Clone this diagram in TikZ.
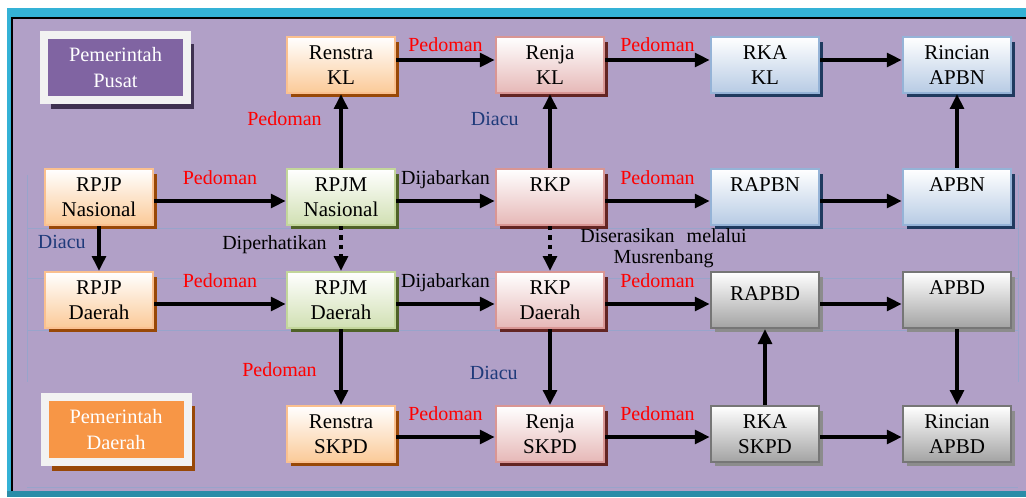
\documentclass[tikz,border=0pt]{standalone}
\usepackage{fontspec}
\setmainfont{Liberation Serif}
\usetikzlibrary{arrows.meta,shadows}

\definecolor{bgpurple}{HTML}{B1A0C7}
\definecolor{tealtop}{HTML}{34B2D6}
\definecolor{tealbot}{HTML}{2A8DA8}
\definecolor{gridblue}{HTML}{8EA6CE}
\definecolor{framegray}{HTML}{F2F2F2}
\definecolor{pusatfill}{HTML}{8064A2}
\definecolor{pusatshadow}{HTML}{3F3151}
\definecolor{daerahfill}{HTML}{F79646}
\definecolor{orgline}{HTML}{FAC08F}
\definecolor{orgfill}{HTML}{FBCA98}
\definecolor{orgshadow}{HTML}{984807}
\definecolor{grnline}{HTML}{C3D69B}
\definecolor{grnfill}{HTML}{D1E0B3}
\definecolor{grnshadow}{HTML}{4F6228}
\definecolor{pnkline}{HTML}{D99694}
\definecolor{pnkfill}{HTML}{E6B8B7}
\definecolor{pnkshadow}{HTML}{632523}
\definecolor{bluline}{HTML}{95B3D7}
\definecolor{blufill}{HTML}{B7CBE4}
\definecolor{blushadow}{HTML}{1F3A5F}
\definecolor{gryline}{HTML}{767676}
\definecolor{gryfill}{HTML}{A3A3A3}
\definecolor{gryshadow}{HTML}{8C8C8C}
\definecolor{diacublue}{HTML}{1F3A7A}

\begin{document}
\begin{tikzpicture}[x=0.5pt, y=-0.5pt,
  box/.style = {minimum width=54pt, minimum height=27.8pt, line width=1.2pt, align=center,
    inner sep=1pt, font=\fontsize{10.5}{12.5}\selectfont, text=black},
  orgbox/.style = {box, draw=orgline, top color=white, bottom color=orgfill,
    drop shadow={shadow xshift=2pt, shadow yshift=-2.2pt, fill=orgshadow, opacity=1}},
  grnbox/.style = {box, draw=grnline, top color=white, bottom color=grnfill,
    drop shadow={shadow xshift=2pt, shadow yshift=-2.2pt, fill=grnshadow, opacity=1}},
  pnkbox/.style = {box, draw=pnkline, top color=white, bottom color=pnkfill,
    drop shadow={shadow xshift=2pt, shadow yshift=-2.2pt, fill=pnkshadow, opacity=1}},
  blubox/.style = {box, draw=bluline, top color=white, bottom color=blufill,
    drop shadow={shadow xshift=2pt, shadow yshift=-2.2pt, fill=blushadow, opacity=1}},
  grybox/.style = {box, draw=gryline, top color=white, bottom color=gryfill,
    drop shadow={shadow xshift=2pt, shadow yshift=-2.2pt, fill=gryshadow, opacity=1}},
  pem/.style = {minimum width=71.5pt, minimum height=32.5pt, line width=4pt, draw=framegray,
    align=center, text=white, font=\fontsize{10.2}{13}\selectfont},
  arr/.style = {line width=2.3pt, -{Triangle[length=7.5pt, width=6.8pt]}},
  dots/.style = {arr, dash pattern=on 2.2pt off 2.5pt},
  lbl/.style = {inner sep=0pt, font=\fontsize{10}{10.5}\selectfont, text=red},
  lblh/.style = {lbl, anchor=base, yshift=8.2pt},
  lbl1/.style = {lbl, anchor=base, yshift=4.3pt}
]

%% frame and background
\useasboundingbox (0,0) rectangle (1026,497);
\fill[white] (0,0) rectangle (1026,497);
\fill[tealtop] (7,8) rectangle (1026,497);
\fill[tealbot] (7,491) rectangle (1026,497);
\fill[bgpurple] (12,18) rectangle (1026,491);
\draw[line width=0.8pt] (12,491) -- (12,18) -- (1026,18);
\draw[gridblue, line width=0.4pt, opacity=0.7] (27,228) -- (1018,228) (27,278) -- (1018,278)
  (27,330) -- (1018,330) (27,487) -- (1018,487) (27,175) -- (27,382) (1018,175) -- (1018,382);

%% level labels
\node[pem, fill=pusatfill, drop shadow={shadow xshift=3.5pt, shadow yshift=-4.5pt, fill=pusatshadow, opacity=1}]
  (pusat) at (115.5,68) {Pemerintah\\Pusat};
\node[pem, fill=daerahfill, drop shadow={shadow xshift=3.5pt, shadow yshift=-4.5pt, fill=orgshadow, opacity=1}]
  (daerah) at (116,429.5) {Pemerintah\\Daerah};

%% documents
\node[orgbox] (renstrakl) at (341,65) {Renstra\\KL};
\node[pnkbox] (renjakl) at (550,65) {Renja\\KL};
\node[blubox] (rkakl) at (765,65) {RKA\\KL};
\node[blubox] (rincianapbn) at (957,65) {Rincian\\APBN};

\node[orgbox] (rpjpn) at (99,197) {RPJP\\Nasional};
\node[grnbox] (rpjmn) at (341,197) {RPJM\\Nasional};
\node[pnkbox] (rkp) at (550,197) {RKP\\~};
\node[blubox] (rapbn) at (765,197) {RAPBN\\~};
\node[blubox] (apbn) at (957,197) {APBN\\~};

\node[orgbox] (rpjpd) at (99,300) {RPJP\\Daerah};
\node[grnbox] (rpjmd) at (341,300) {RPJM\\Daerah};
\node[pnkbox] (rkpd) at (550,300) {RKP\\Daerah};
\node[grybox] (rapbd) at (765,300) {\raisebox{6pt}{RAPBD}};
\node[grybox] (apbd) at (957,300) {APBD\\~};

\node[orgbox] (renstraskpd) at (341,434) {Renstra\\SKPD};
\node[pnkbox] (renjaskpd) at (550,434) {Renja\\SKPD};
\node[grybox] (rkaskpd) at (765,434) {RKA\\SKPD};
\node[grybox] (rincianapbd) at (957,434) {Rincian\\APBD};

%%% arrows
\draw[arr] ([yshift=2.5pt]renstrakl.east) -- node[lbl1, midway] {Pedoman} ([yshift=2.5pt]renjakl.west);
\draw[arr] ([yshift=2.5pt]renjakl.east) -- node[lbl1, midway] {Pedoman} ([yshift=2.5pt]rkakl.west);
\draw[arr] ([yshift=2.5pt]rkakl.east) -- ([yshift=2.5pt]rincianapbn.west);

\draw[arr] ([yshift=-2pt]rpjpn.east) -- node[lblh, midway] {Pedoman} ([yshift=-2pt]rpjmn.west);
\draw[arr] ([yshift=-2pt]rpjmn.east) -- node[lblh, midway, text=black] {Dijabarkan} ([yshift=-2pt]rkp.west);
\draw[arr] ([yshift=-2pt]rkp.east) -- node[lblh, midway] {Pedoman} ([yshift=-2pt]rapbn.west);
\draw[arr] ([yshift=-2pt]rapbn.east) -- ([yshift=-2pt]apbn.west);

\draw[arr] ([yshift=-2pt]rpjpd.east) -- node[lblh, midway] {Pedoman} ([yshift=-2pt]rpjmd.west);
\draw[arr] ([yshift=-2pt]rpjmd.east) -- node[lblh, midway, text=black] {Dijabarkan} ([yshift=-2pt]rkpd.west);
\draw[arr] ([yshift=-2pt]rkpd.east) -- node[lblh, midway] {Pedoman} ([yshift=-2pt]rapbd.west);
\draw[arr] ([yshift=-2pt]rapbd.east) -- ([yshift=-2pt]apbd.west);

\draw[arr] ([yshift=-1.5pt]renstraskpd.east) -- node[lblh, midway] {Pedoman} ([yshift=-1.5pt]renjaskpd.west);
\draw[arr] ([yshift=-1.5pt]renjaskpd.east) -- node[lblh, midway] {Pedoman} ([yshift=-1.5pt]rkaskpd.west);
\draw[arr] ([yshift=-1.5pt]rkaskpd.east) -- ([yshift=-1.5pt]rincianapbd.west);

\draw[arr] (rpjmn) -- node[lbl, anchor=east, xshift=-8.5pt, pos=0.67] {Pedoman} (renstrakl);
\draw[arr] (rkp) -- node[lbl, anchor=east, xshift=-14.5pt, pos=0.66, text=diacublue] {Diacu} (renjakl);
\draw[arr] (apbn) -- (rincianapbn);
\draw[arr] (rpjpn) -- node[lbl, anchor=east, xshift=-5.5pt, pos=0.36, text=diacublue] {Diacu} (rpjpd);
\draw[dots] (rpjmn) -- node[lbl, anchor=east, xshift=-6pt, pos=0.42, text=black] {Diperhatikan} (rpjmd);
\draw[dots] (rkp) -- node[lbl, anchor=west, xshift=14pt, pos=0.5, text=black, align=center]
  {Diserasikan\hspace{0.6em}melalui\\Musrenbang} (rkpd);
\draw[arr] (rpjmd) -- node[lbl, anchor=east, xshift=-11pt, pos=0.54] {Pedoman} (renstraskpd);
\draw[arr] (rkpd) -- node[lbl, anchor=east, xshift=-15pt, pos=0.58, text=diacublue] {Diacu} (renjaskpd);
\draw[arr] (rkaskpd) -- (rapbd);
\draw[arr] (apbd) -- (rincianapbd);

\end{tikzpicture}
\end{document}
